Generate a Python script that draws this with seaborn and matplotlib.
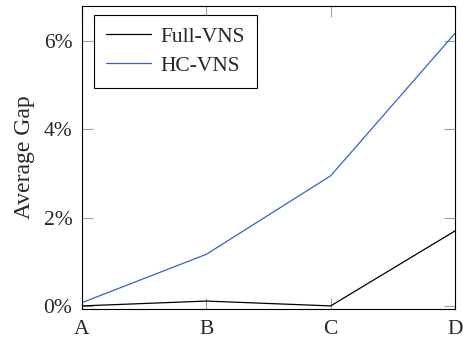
import pandas as pd
import numpy as np
import matplotlib
matplotlib.use("Agg")
import matplotlib.pyplot as plt
import seaborn as sns
from matplotlib.ticker import FuncFormatter

# Values (percent)
categories = ["A", "B", "C", "D"]
full_vns = [0.0, 0.11, 0.0, 1.70]
hc_vns = [0.075, 1.17, 2.95, 6.18]
y_ticks = [0, 2, 4, 6]

df = pd.DataFrame({
    "Instance": categories * 2,
    "Gap": full_vns + hc_vns,
    "Method": ["Full-VNS"] * len(categories) + ["HC-VNS"] * len(categories),
})

sns.set_style("ticks")
plt.rcParams["font.family"] = ["Liberation Serif", "DejaVu Serif"]

fig = plt.figure(figsize=(4.63, 3.38), dpi=100)
ax = fig.add_axes([82 / 463, 1 - 309 / 338, 373 / 463, 303 / 338])

sns.lineplot(data=df, x="Instance", y="Gap", hue="Method",
             palette={"Full-VNS": "black", "HC-VNS": "#3562c4"},
             linewidth=0.9, ax=ax, sort=False)

ax.set_xlim(0, 3)
ax.set_ylim(-0.07, 6.8)
ax.set_yticks(y_ticks)
ax.yaxis.set_major_formatter(FuncFormatter(lambda v, p: f"{v:.0f}%"))
ax.set_xlabel("")
ax.set_ylabel("Average Gap", fontsize=17, labelpad=6)

for s in ax.spines.values():
    s.set_visible(True)
    s.set_color("black")
    s.set_linewidth(0.8)

ax.tick_params(axis="both", which="major", direction="in", length=8,
               width=0.8, color="#a0a0a0", labelsize=15.5,
               top=True, right=True)
ax.tick_params(axis="x", pad=8)
ax.tick_params(axis="y", pad=7)

leg = ax.legend(loc="upper left", bbox_to_anchor=(0.032, 0.97),
                borderaxespad=0, fontsize=15.5, frameon=True, fancybox=False,
                handlelength=2.1, handletextpad=0.45, labelspacing=0.4,
                borderpad=0.55, title=None)
leg.get_frame().set_edgecolor("black")
leg.get_frame().set_linewidth(0.8)
leg.get_frame().set_alpha(1)

fig.savefig("out.png", dpi=100)
